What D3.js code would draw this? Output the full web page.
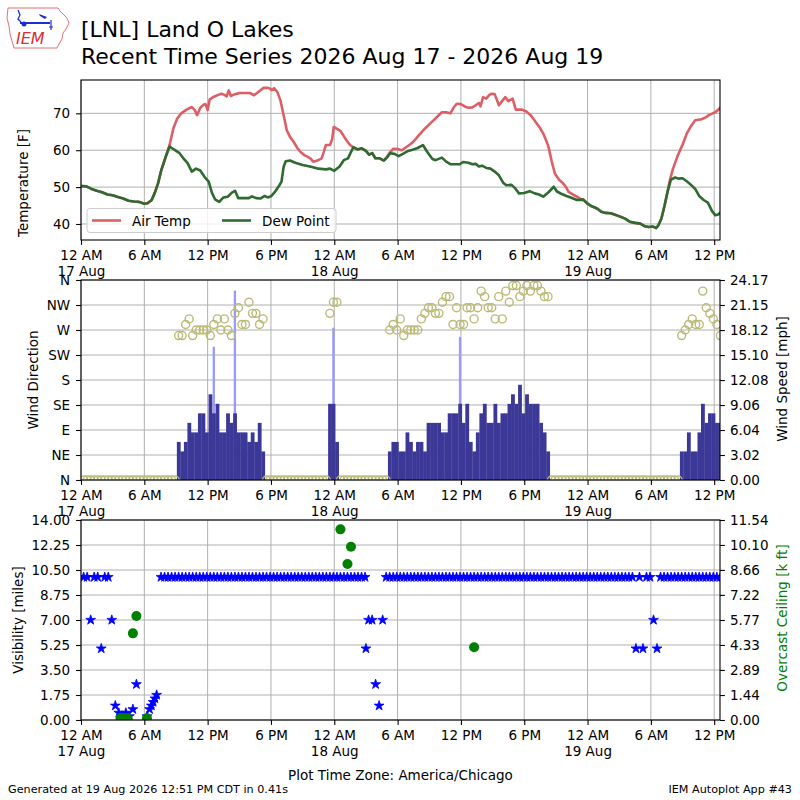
<!DOCTYPE html>
<html>
<head>
<meta charset="utf-8">
<script src="https://cdn.jsdelivr.net/npm/d3@7"></script>
<style>
  body { margin: 0; background: #fff; }
  text { font-family: "DejaVu Sans", sans-serif; }
</style>
</head>
<body>
<svg id="chart" width="800" height="800"></svg>
<script>
// all times are hours after 12 AM 17 Aug 2026 (America/Chicago)
const airTemp = [[0.0,50.3],[0.5,50.2],[1.0,49.5],[1.5,49.0],[2.0,48.6],[2.5,48.0],[3.0,47.8],[3.5,47.3],[4.0,46.9],[4.5,46.3],[5.0,46.1],[5.5,46.0],[6.0,45.5],[6.3,45.6],[6.7,46.5],[7.0,48.5],[7.3,51.0],[7.6,54.5],[8.0,58.0],[8.4,61.5],[8.75,65.9],[9.1,68.5],[9.5,70.0],[10.0,71.0],[10.5,71.7],[10.8,70.8],[11.0,69.5],[11.3,71.5],[11.6,72.3],[11.8,72.5],[12.0,70.9],[12.2,73.8],[12.6,74.5],[13.0,75.0],[13.3,75.3],[13.6,75.0],[13.8,74.6],[14.0,76.2],[14.2,74.7],[14.6,75.2],[15.1,75.5],[15.6,75.5],[16.0,75.5],[16.4,74.9],[16.8,75.8],[17.3,76.9],[17.7,76.9],[17.9,76.7],[18.1,76.3],[18.3,76.8],[18.6,75.8],[18.9,73.5],[19.2,69.5],[19.5,65.4],[19.8,63.6],[20.1,62.5],[20.5,60.6],[20.8,59.5],[21.2,58.6],[21.5,58.2],[21.8,57.6],[22.0,56.9],[22.4,57.2],[22.8,57.8],[23.0,59.5],[23.2,61.4],[23.6,61.4],[23.8,63.0],[23.95,66.3],[24.3,65.7],[24.6,65.2],[24.9,63.8],[25.2,62.5],[25.5,61.4],[25.8,60.8],[26.2,60.2],[26.6,60.5],[27.0,59.8],[27.3,58.8],[27.6,59.2],[27.9,57.8],[28.3,57.8],[28.7,57.2],[29.0,58.3],[29.3,59.5],[29.6,60.4],[30.0,60.3],[30.4,60.0],[30.8,60.8],[31.2,61.6],[31.5,62.3],[32.0,64.0],[32.6,65.9],[33.0,67.0],[33.4,68.1],[33.8,69.2],[34.2,70.3],[34.6,70.3],[35.0,70.0],[35.3,71.5],[35.6,72.6],[36.0,72.5],[36.4,71.8],[36.7,71.5],[37.1,71.6],[37.4,72.2],[37.7,72.8],[37.85,71.9],[38.1,74.4],[38.4,74.0],[38.7,75.0],[38.9,75.3],[39.2,75.2],[39.6,72.2],[39.9,73.3],[40.2,74.4],[40.5,73.3],[40.9,74.0],[41.2,71.0],[41.5,71.0],[41.8,71.0],[42.2,70.5],[42.6,69.5],[42.9,68.4],[43.2,67.2],[43.5,66.0],[43.8,64.5],[44.1,62.5],[44.3,60.9],[44.6,57.0],[44.9,53.7],[45.3,52.0],[45.7,51.0],[46.0,49.8],[46.2,48.7],[46.6,48.0],[47.0,47.4],[47.3,46.8],[47.6,46.6],[48.0,45.5],[48.4,44.8],[48.9,44.2],[49.3,43.3],[49.7,43.0],[50.2,42.9],[50.6,42.5],[51.1,42.0],[51.6,41.4],[52.0,40.6],[52.5,40.3],[53.0,40.1],[53.4,39.4],[53.8,39.2],[54.2,39.3],[54.5,38.9],[54.7,39.6],[55.0,41.5],[55.3,45.0],[55.6,49.0],[55.8,51.9],[56.1,55.0],[56.5,58.2],[57.0,61.5],[57.4,64.5],[57.8,66.5],[58.2,68.1],[58.8,68.4],[59.2,68.9],[59.5,69.5],[59.8,69.9],[60.1,70.3],[60.4,71.0],[60.6,71.7]];

const dewPoint = [[0.0,50.3],[0.5,50.2],[1.0,49.5],[1.5,49.0],[2.0,48.6],[2.5,48.0],[3.0,47.8],[3.5,47.3],[4.0,46.9],[4.5,46.3],[5.0,46.1],[5.5,46.0],[6.0,45.5],[6.3,45.6],[6.7,46.5],[7.0,48.5],[7.3,51.0],[7.6,54.5],[8.0,58.0],[8.4,61.0],[8.8,60.2],[9.3,59.3],[9.7,57.8],[10.1,56.5],[10.5,54.2],[10.9,55.0],[11.3,54.5],[11.7,52.8],[12.1,51.5],[12.4,48.5],[12.7,46.7],[13.1,46.0],[13.5,47.2],[13.9,47.4],[14.3,48.5],[14.6,49.0],[14.9,47.0],[15.4,47.0],[15.9,47.0],[16.2,47.5],[16.6,47.0],[17.0,46.9],[17.4,47.6],[17.7,47.2],[18.0,47.5],[18.4,48.8],[18.8,50.5],[19.0,51.5],[19.2,55.5],[19.4,57.0],[19.8,57.2],[20.3,56.6],[21.0,56.0],[21.8,55.5],[22.5,55.0],[23.2,54.8],[23.6,55.0],[24.0,54.4],[24.5,55.6],[24.9,57.3],[25.3,57.8],[25.8,60.8],[26.2,60.2],[26.6,60.5],[27.0,59.8],[27.3,58.8],[27.6,59.2],[27.9,57.8],[28.3,57.8],[28.7,57.2],[29.0,58.0],[29.3,59.2],[29.7,59.0],[30.1,58.4],[30.5,59.0],[31.0,59.8],[31.5,60.2],[31.9,60.6],[32.4,61.4],[32.8,59.6],[33.3,57.6],[33.6,57.3],[34.2,58.0],[34.6,56.9],[35.0,56.2],[35.5,56.2],[35.9,56.2],[36.2,56.8],[36.7,56.6],[37.1,56.2],[37.4,56.3],[37.7,55.6],[38.0,55.8],[38.4,55.2],[38.8,55.0],[39.2,54.2],[39.6,53.2],[40.0,51.2],[40.3,50.5],[40.8,50.6],[41.1,49.8],[41.5,48.3],[42.0,48.4],[42.5,48.9],[43.0,48.3],[43.4,48.0],[43.8,47.4],[44.3,48.6],[44.8,50.1],[45.1,48.8],[45.5,48.2],[46.0,47.6],[46.4,47.2],[47.0,46.5],[47.6,46.6],[48.0,45.5],[48.4,44.8],[48.9,44.2],[49.3,43.3],[49.7,43.0],[50.2,42.9],[50.6,42.5],[51.1,42.0],[51.6,41.4],[52.0,40.6],[52.5,40.3],[53.0,40.1],[53.4,39.4],[53.8,39.2],[54.2,39.3],[54.5,38.9],[54.7,39.6],[55.0,41.5],[55.3,45.0],[55.6,49.0],[55.9,52.0],[56.3,52.6],[56.6,52.3],[57.0,52.4],[57.4,51.6],[57.8,50.6],[58.2,49.5],[58.6,47.5],[59.0,46.5],[59.4,45.8],[59.8,43.5],[60.1,42.4],[60.4,42.6],[60.6,43.2]];

// wind: obs every 20 minutes; windy stretches listed, calm (0 kt, dir N) otherwise
const windStart = [9.25, 23.583, 29.25, 56.917];
const windKnots = [
  [4,3,4,6,5,5,7,7,5,9,7,8,5,5,7,6,7,5,5,5,4,5,4,6,3],
  [8,8,4],
  [3,4,4,3,3,5,4,3,4,4,3,6,6,6,6,5,5,7,7,7,8,6,8,4,3,5,7,8,6,6,8,6,7,7,8,9,8,10,7,9,8,8,8,6,5,3],
  [3,3,5,3,3,5,8,6,7,7,6,6]
];
const windDir = [
  [260,260,280,290,260,270,270,270,270,260,280,290,270,290,270,260,300,310,280,280,320,300,300,280,290],
  [300,320,320],
  [270,280,270,290,260,270,270,270,270,290,300,310,310,300,300,320,330,330,280,310,280,280,310,310,290,310,340,330,310,310,290,330,290,340,320,350,350,330,340,350,340,350,350,340,330,330],
  [260,270,280,290,280,280,340,310,300,290,280,260]
];
const calmRuns = [[0.25, 8.917], [17.583, 23.25], [24.583, 28.917], [44.583, 56.583]];
const gustHours = [12.583, 14.583, 23.917, 35.917];
const gustMph = [16.1, 22.9, 18.4, 17.3];

// visibility [miles]: stretches reporting 10, plus the lower reports
const visTenRuns = [[0.25,0.583],[1.25,1.583],[2.25,2.583],[7.583,26.917],[28.917,52.25],[52.917,52.917],[53.583,53.917],[54.917,60.583]];
const visHours = [0.917,1.917,2.917,3.25,3.583,3.917,4.25,4.583,4.917,5.25,6.25,6.5,6.667,6.833,7.0,7.167,27.0,27.25,27.583,27.917,28.25,28.583,52.583,53.25,54.25,54.583];
const visMiles = [7,5,7,1.0,0.5,0.25,0.5,0.25,0.75,2.5,0.25,0.75,1.0,1.25,1.5,1.75,5,7,7,2.5,1.0,7,5,5,7,5];

// overcast ceiling [k ft]
const ceilHours = [3.75,4.083,4.417,4.917,5.25,6.25,24.583,25.25,25.583,37.25];
const ceilKft = [0.1,0.1,0.1,5.0,6.0,0.1,11.0,9.0,10.0,4.2];

const tempTicks = [40, 50, 60, 70];
const dirTickLabels = ['N','NE','E','SE','S','SW','W','NW','N'];
const speedTickLabels = ['0.00','3.02','6.04','9.06','12.08','15.10','18.12','21.15','24.17'];
const visTickLabels = ['0.00','1.75','3.50','5.25','7.00','8.75','10.50','12.25','14.00'];
const ceilTickLabels = ['0.00','1.44','2.89','4.33','5.77','7.22','8.66','10.10','11.54'];

const T0 = Date.UTC(2026, 7, 17);
const toDate = h => new Date(T0 + h * 3600e3);
const KT2MPH = 1.15078;
const every20 = ([a, b]) => d3.range(a, b + 0.01, 1 / 3);

const svg = d3.select('#chart');
const L = 81, R = 720;
const x = d3.scaleUtc().domain([toDate(0), toDate(60.55)]).range([L, R]);
const xTicks = x.ticks(d3.utcHour.every(6));
const hourLabel = d => { const h = d.getUTCHours(); return (h % 12 === 0 ? 12 : h % 12) + (h < 12 ? ' AM' : ' PM'); };
const dayLabel = d3.utcFormat('%d %b');

const panels = [{top: 80, bottom: 240}, {top: 280, bottom: 480}, {top: 520, bottom: 720}];
const tempY = d3.scaleLinear().domain([35.66, 79.03]).range([240, 80]);
const dirY = d3.scaleLinear().domain([0, 360]).range([480, 280]);
const speedY = d3.scaleLinear().domain([0, 24.17]).range([480, 280]);
const visY = d3.scaleLinear().domain([0, 14]).range([720, 520]);
const ceilY = d3.scaleLinear().domain([0, 11.54]).range([720, 520]);

function styleAxis(ax) {
  ax.attr('font-size', 13.5).attr('font-family', '"DejaVu Sans", sans-serif');
  ax.select('.domain').remove();
  ax.selectAll('.tick line').attr('stroke', '#000').attr('stroke-width', 1.1);
  ax.selectAll('.tick text').attr('fill', '#000');
}

function setupPanel(p, i, yPos) {
  p.g = svg.append('g');
  p.g.append('rect').attr('x', L).attr('y', p.top).attr('width', R - L).attr('height', p.bottom - p.top).attr('fill', '#fff');
  svg.append('clipPath').attr('id', 'clip' + i).append('rect')
    .attr('x', L).attr('y', p.top).attr('width', R - L).attr('height', p.bottom - p.top);
  const grid = p.g.append('g').attr('stroke', '#b0b0b0').attr('stroke-width', 1);
  grid.selectAll(null).data(xTicks).join('line')
    .attr('x1', d => x(d)).attr('x2', d => x(d)).attr('y1', p.top).attr('y2', p.bottom);
  grid.selectAll(null).data(yPos).join('line')
    .attr('x1', L).attr('x2', R).attr('y1', d => d).attr('y2', d => d);
  p.plot = p.g.append('g').attr('clip-path', `url(#clip${i})`);
}

function finishPanel(p) {
  p.g.append('rect').attr('x', L).attr('y', p.top).attr('width', R - L).attr('height', p.bottom - p.top)
    .attr('fill', 'none').attr('stroke', '#000').attr('stroke-width', 1.1);
  const ax = p.g.append('g').attr('transform', `translate(0,${p.bottom})`)
    .call(d3.axisBottom(x).tickValues(xTicks).tickSize(4.9).tickSizeOuter(0).tickPadding(5.5).tickFormat(hourLabel));
  styleAxis(ax);
  ax.selectAll('.tick text').each(function (d) {
    if (d.getUTCHours() === 0) {
      d3.select(this).append('tspan').attr('x', 0).attr('dy', '1.17em').text(dayLabel(d));
    }
  });
}

function yLabel(txt, cx, cy, color) {
  svg.append('text').attr('transform', `translate(${cx},${cy}) rotate(-90)`)
    .attr('text-anchor', 'middle').attr('dy', '0.35em').attr('font-size', 13.5)
    .attr('fill', color || '#000').text(txt);
}

// ---------- top panel: temperature ----------
const p0 = panels[0];
setupPanel(p0, 0, tempTicks.map(tempY));
const tLine = s => d3.line().x(d => x(toDate(d[0]))).y(d => s(d[1]));
p0.plot.append('path').datum(airTemp).attr('d', tLine(tempY))
  .attr('fill', 'none').attr('stroke', '#dd5f66').attr('stroke-width', 2.6).attr('stroke-linejoin', 'round');
p0.plot.append('path').datum(dewPoint).attr('d', tLine(tempY))
  .attr('fill', 'none').attr('stroke', '#2f6a30').attr('stroke-width', 2.6).attr('stroke-linejoin', 'round');
finishPanel(p0);
styleAxis(p0.g.append('g').attr('transform', `translate(${L},0)`)
  .call(d3.axisLeft(tempY).tickValues(tempTicks).tickSize(4.9).tickPadding(6).tickSizeOuter(0)));
yLabel('Temperature [F]', 23, 183);

const legend = p0.g.append('g');
legend.append('rect').attr('x', 87).attr('y', 208.5).attr('width', 249).attr('height', 24).attr('rx', 3)
  .attr('fill', '#fff').attr('fill-opacity', 0.8).attr('stroke', '#cccccc');
[['Air Temp', '#dd5f66', 92], ['Dew Point', '#2f6a30', 222]].forEach(([name, col, lx]) => {
  legend.append('line').attr('x1', lx).attr('x2', lx + 29).attr('y1', 220.5).attr('y2', 220.5)
    .attr('stroke', col).attr('stroke-width', 2.6);
  legend.append('text').attr('x', lx + 40).attr('y', 225.5).attr('font-size', 13.5).text(name);
});

// ---------- middle panel: wind ----------
const p1 = panels[1];
const dirTicks = dirTickLabels.map((_, i) => i * 45);
setupPanel(p1, 1, dirTicks.map(dirY));
const windObs = [];
windStart.forEach((s, si) => windKnots[si].forEach((k, j) =>
  windObs.push({h: s + j / 3, mph: k * KT2MPH, dir: windDir[si][j]})));
calmRuns.forEach(run => every20(run).forEach(h => windObs.push({h, mph: 0, dir: 0})));
const halfBar = (h, w) => [x(toDate(h - w)), x(toDate(h + w))];

p1.plot.selectAll(null).data(gustHours).join('rect')
  .attr('x', (h) => halfBar(h, 0.11)[0]).attr('width', (h) => halfBar(h, 0.11)[1] - halfBar(h, 0.11)[0])
  .attr('y', (h, i) => speedY(gustMph[i])).attr('height', (h, i) => speedY(0) - speedY(gustMph[i]))
  .attr('fill', '#9999ff');
p1.plot.selectAll(null).data(windObs.filter(d => d.mph > 0)).join('rect')
  .attr('x', d => halfBar(d.h, 1 / 6)[0]).attr('width', d => halfBar(d.h, 1 / 6)[1] - halfBar(d.h, 1 / 6)[0] + 0.3)
  .attr('y', d => speedY(d.mph)).attr('height', d => speedY(0) - speedY(d.mph))
  .attr('fill', '#3b3898');
p1.plot.selectAll(null).data(windObs).join('circle')
  .attr('cx', d => x(toDate(d.h))).attr('cy', d => dirY(d.dir)).attr('r', 4)
  .attr('fill', 'none').attr('stroke', '#bbbb77').attr('stroke-width', 1.4);
finishPanel(p1);
styleAxis(p1.g.append('g').attr('transform', `translate(${L},0)`)
  .call(d3.axisLeft(dirY).tickValues(dirTicks).tickFormat((d, i) => dirTickLabels[i])
    .tickSize(4.9).tickPadding(6).tickSizeOuter(0)));
styleAxis(p1.g.append('g').attr('transform', `translate(${R},0)`)
  .call(d3.axisRight(speedY).tickValues(speedTickLabels.map(Number)).tickFormat((d, i) => speedTickLabels[i])
    .tickSize(4.9).tickPadding(5).tickSizeOuter(0)));
yLabel('Wind Direction', 33, 380);
yLabel('Wind Speed [mph]', 782, 379);

// ---------- bottom panel: visibility & ceiling ----------
const p2 = panels[2];
const visTicks = visTickLabels.map(Number);
setupPanel(p2, 2, visTicks.map(visY));
const visObs = [];
visTenRuns.forEach(run => every20(run).forEach(h => visObs.push({h, v: 10})));
visHours.forEach((h, i) => visObs.push({h, v: visMiles[i]}));
p2.plot.selectAll(null).data(visObs).join('path')
  .attr('d', d3.symbol().type(d3.symbolStar).size(30))
  .attr('transform', d => `translate(${x(toDate(d.h))},${visY(d.v)})`)
  .attr('fill', '#0000ff').attr('stroke', '#0000ff').attr('stroke-width', 0.8).attr('stroke-linejoin', 'round');
p2.plot.selectAll(null).data(ceilHours).join('circle')
  .attr('cx', h => x(toDate(h))).attr('cy', (h, i) => ceilY(ceilKft[i])).attr('r', 5)
  .attr('fill', '#008000');
finishPanel(p2);
styleAxis(p2.g.append('g').attr('transform', `translate(${L},0)`)
  .call(d3.axisLeft(visY).tickValues(visTicks).tickFormat((d, i) => visTickLabels[i])
    .tickSize(4.9).tickPadding(6).tickSizeOuter(0)));
styleAxis(p2.g.append('g').attr('transform', `translate(${R},0)`)
  .call(d3.axisRight(ceilY).tickValues(ceilTickLabels.map(Number)).tickFormat((d, i) => ceilTickLabels[i])
    .tickSize(4.9).tickPadding(5).tickSizeOuter(0)));
yLabel('Visibility [miles]', 18, 620);
yLabel('Overcast Ceiling [k ft]', 782, 618, '#008000');
svg.append('text').attr('x', 400.5).attr('y', 780).attr('text-anchor', 'middle').attr('font-size', 13.5)
  .text('Plot Time Zone: America/Chicago');

// ---------- titles, footer, logo ----------
svg.append('text').attr('x', 81).attr('y', 37).attr('font-size', 22).text('[LNL] Land O Lakes');
svg.append('text').attr('x', 81).attr('y', 64).attr('font-size', 22).text('Recent Time Series 2026 Aug 17 - 2026 Aug 19');
svg.append('text').attr('x', 8).attr('y', 793).attr('font-size', 11.2).text('Generated at 19 Aug 2026 12:51 PM CDT in 0.41s');
svg.append('text').attr('x', 792).attr('y', 793).attr('text-anchor', 'end').attr('font-size', 11.2).text('IEM Autoplot App #43');

const logo = svg.append('g');
logo.append('path')
  .attr('d', 'M8,8 L58,8 L60,11 L63,14 L67,18 L69,23 L66,29 L63,33 L62,39 L59,44 L57,48 L14,48 L12,41 L10,34 L9,26 L7,18 Z')
  .attr('fill', 'none').attr('stroke', '#e06060').attr('stroke-width', 0.9);
logo.append('line').attr('x1', 20).attr('x2', 50).attr('y1', 23).attr('y2', 23).attr('stroke', '#1a2fd0').attr('stroke-width', 2);
logo.append('circle').attr('cx', 24).attr('cy', 24).attr('r', 2.5).attr('fill', '#1a2fd0');
logo.append('path').attr('d', 'M18,10 L20,15 L18,19 L21,22').attr('fill', 'none').attr('stroke', '#1a2fd0').attr('stroke-width', 1.3);
logo.append('path').attr('d', 'M39,14 L47,17 L45,19 L40,16 Z').attr('fill', '#1a2fd0');
logo.append('path').attr('d', 'M51,20 L51,30 M49,27 L53,27').attr('fill', 'none').attr('stroke', '#1a2fd0').attr('stroke-width', 1.2);
logo.append('text').attr('x', 16).attr('y', 44).attr('font-family', '"Liberation Serif", serif')
  .attr('font-style', 'italic').attr('font-size', 16).attr('fill', '#d83030').text('IEM');
</script>
</body>
</html>
